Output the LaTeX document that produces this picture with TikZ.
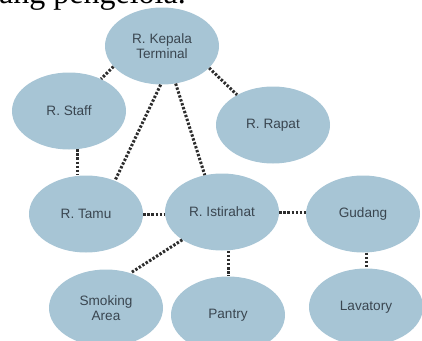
\documentclass[tikz,border=0pt]{standalone}
\usepackage{fontspec}
\setmainfont{Liberation Sans}
\newfontfamily\serifhead{Liberation Serif}
\usetikzlibrary{shapes.geometric}
\definecolor{roomfill}{RGB}{167,197,213}
\definecolor{roomtext}{RGB}{58,70,80}
\definecolor{linkgray}{RGB}{45,45,45}
\tikzset{
  room/.style={ellipse, fill=roomfill, minimum width=114pt, minimum height=77pt,
    inner sep=0pt, text=roomtext, align=center,
    font=\fontsize{13.6}{15}\selectfont},
  link/.style={draw=linkgray, line width=3pt, dash pattern=on 2.4pt off 1.7pt}
}
\begin{document}
\begin{tikzpicture}[x=1pt,y=-1pt]
\useasboundingbox (0,0) rectangle (422,340);
\begin{scope}
\clip (0,0) rectangle (422,340);
% heading line, cut by the top edge
\node[anchor=base west, inner sep=0pt, font=\serifhead\fontsize{32}{32}\selectfont]
  (head) at (-1,3) {ang pengelola.};

% rooms
\node[room] (kep)    at (162,46)  {R. Kepala\\Terminal};
\node[room] (staff)  at (69,111)  {R. Staff};
\node[room] (rapat)  at (273,125) {R. Rapat};
\node[room] (tamu)   at (86,214)  {R. Tamu};
\node[room] (istir)  at (222,212) {R. Istirahat};
\node[room] (gudang) at (363,214) {Gudang};
\node[room] (smoke)  at (106,308) {Smoking\\Area};
\node[room] (pantry) at (228,315) {Pantry};
\node[room] (lav)    at (366,307) {Lavatory};

% links between rooms
\draw[link] (kep.203) -- (staff.45);
\draw[link] (kep.268) -- (tamu.49);
\draw[link] (kep.290) -- (istir.115);
\draw[link] (kep.335) -- (rapat.140);
\draw[link] (staff.-77) -- (staff.-77 |- tamu.north);
\draw[link] (tamu.east) -- (tamu.east -| istir.west);
\draw[link] (istir.east) -- (istir.east -| gudang.west);
\draw[link] (pantry.north |- istir.south) -- (pantry.north);
\draw[link] (istir.215) -- (smoke.55);
\draw[link] (lav.north |- gudang.south) -- (lav.north);
\end{scope}
\end{tikzpicture}
\end{document}
